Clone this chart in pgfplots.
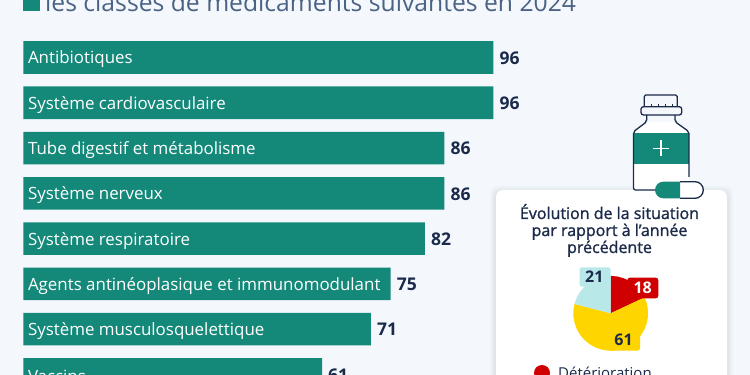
\documentclass[border=0pt]{standalone}
\usepackage{fontspec}
\setmainfont{Open Sans}
\newfontfamily\semib[FakeBold=1.2]{Open Sans}
\newfontfamily\lightf{Open Sans}
\usepackage{pgfplots}
\usepackage{pgfplotstable}
\pgfplotsset{compat=1.18}
\definecolor{bgc}{HTML}{F4F8FC}
\definecolor{barc}{HTML}{14897A}
\definecolor{navy}{HTML}{1B2A4A}
\definecolor{titlec}{HTML}{4A6385}
\definecolor{redc}{HTML}{D10000}
\definecolor{yelc}{HTML}{FFD500}
\definecolor{bluec}{HTML}{B9E8E8}
\pgfplotstableread[col sep=comma]{
y,v,name
0,96,Antibiotiques
1,96,Système cardiovasculaire
2,86,Tube digestif et métabolisme
3,86,Système nerveux
4,82,Système respiratoire
5,75,Agents antinéoplasique et immunomodulant
6,71,Système musculosquelettique
7,61,Vaccins
}\bars
\begin{document}
\begin{tikzpicture}[x=1pt,y=1pt]
\path[use as bounding box,clip] (0,0) rectangle (750,375);
\fill[bgc] (0,0) rectangle (750,375);
% card
\begin{scope}[yshift=375pt,y=-1pt]
\foreach \g/\o in {6/0.025,4/0.03,2/0.04}{
 \fill[navy,opacity=\o,rounded corners=8pt] (496-\g,190-\g+2) rectangle (727+\g,400);}
\fill[white,rounded corners=7pt] (496,190) rectangle (727,400);
\node[anchor=base west,inner sep=0,text=titlec,font=\lightf\fontsize{24.7}{26}\selectfont] at (45,11.5) {les classes de médicaments suivantes en 2024};
\fill[barc] (23,-8) rectangle (40,11);
\node[anchor=base,inner sep=0,text=navy,font=\semib\fontsize{16}{17}\selectfont] at (609.5,219) {Évolution de la situation};
\node[anchor=base,inner sep=0,text=navy,font=\semib\fontsize{16}{17}\selectfont] at (609.5,236) {par rapport à l’année};
\node[anchor=base,inner sep=0,text=navy,font=\semib\fontsize{16}{17}\selectfont] at (609.5,253) {précédente};
\fill[redc] (542,373) circle (8);
\node[anchor=base west,inner sep=0,text=navy,font=\fontsize{15}{17}\selectfont] at (558,378) {Détérioration};
\end{scope}
\begin{axis}[at={(0pt,0pt)},anchor=south west,scale only axis,width=750pt,height=375pt,
  hide axis,xmin=-4.76,xmax=148.4,y dir=reverse,ymin=-1.27,ymax=7.012,clip=true,
  /pgf/number format/assume math mode=true]
\addplot[xbar,bar width=32.6pt,fill=barc,draw=none,
  nodes near coords,
  every node near coord/.append style={anchor=west,inner sep=0,xshift=6pt,yshift=-0.5pt,text=navy,
    font=\bfseries\fontsize{17.5}{18}\selectfont}] table[x=v,y=y,col sep=comma] {\bars};
\addplot[only marks,mark=none,
  nodes near coords,point meta=explicit symbolic,
  every node near coord/.append style={anchor=west,inner sep=0,xshift=4.5pt,yshift=-2pt,text=white,
    font=\fontsize{16.9}{18}\selectfont}]
  table[x expr=0,y=y,meta=name,col sep=comma] {\bars};
\end{axis}
\begin{axis}[at={(610.7pt,61.7pt)},anchor=center,scale only axis,width=74.8pt,height=74.8pt,
  hide axis,xmin=-1,xmax=1,ymin=-1,ymax=1,clip=false]
% 18 %
\addplot[fill=redc,draw=none,data cs=polar] coordinates {(0,0)(90,1)(80,1)(70,1)(60,1)(50,1)(40,1)(30,1)(25.2,1)} -- cycle;
% 61 %
\addplot[fill=yelc,draw=none,data cs=polar] coordinates {(0,0)(25.2,1)(15,1)(5,1)(-5,1)(-15,1)(-25,1)(-35,1)(-45,1)(-55,1)(-65,1)(-75,1)(-85,1)(-95,1)(-105,1)(-115,1)(-125,1)(-135,1)(-145,1)(-155,1)(-165,1)(-175,1)(-185,1)(-194.4,1)} -- cycle;
% 21 %
\addplot[fill=bluec,draw=none,data cs=polar] coordinates {(0,0)(-194.4,1)(-205,1)(-215,1)(-225,1)(-235,1)(-245,1)(-255,1)(-265,1)(-270,1)} -- cycle;
\end{axis}
\begin{scope}[yshift=375pt,y=-1pt]
% pie labels
\fill[bluec,rounded corners=2.5pt] (579.5,267.3) rectangle (610.7,286.7);
\node[text=navy,inner sep=0,font=\bfseries\fontsize{16}{16}\selectfont] at (594.3,277) {21};
\fill[redc,rounded corners=2.5pt] (627.3,277.7) rectangle (658.3,298.3);
\node[text=white,inner sep=0,font=\bfseries\fontsize{16}{16}\selectfont] at (642.7,287.7) {18};
\fill[yelc,rounded corners=2.5pt] (608,330) rectangle (640,350.7);
\node[text=navy,inner sep=0,font=\bfseries\fontsize{16}{16}\selectfont] at (623.5,340.3) {61};
% bottle
\fill[white] (633.5,132) -- (646.7,121.7) -- (675,121.7) -- (689,132) -- (689,190) -- (633.5,190) -- cycle;
\fill[barc] (633.5,132.7) rectangle (689,164);
\draw[navy,line width=1.3pt,line join=round,rounded corners=1.5pt]
  (644.3,106.7) -- (644.3,95) -- (677.3,95) -- (677.3,106.7);
\draw[navy,line width=1.3pt,rounded corners=2.5pt] (641,106.7) rectangle (681.7,115);
\draw[navy,line width=0.8pt] (651,106.7)--(651,104) (658,106.7)--(658,104) (665,106.7)--(665,104) (672,106.7)--(672,104);
\draw[navy,line width=1.3pt,line join=round,rounded corners=2pt]
  (646.7,115) -- (646.7,121.7) -- (633.5,131.7) -- (633.5,190) -- (656,190);
\draw[navy,line width=1.3pt,line join=round,rounded corners=2pt]
  (675,115) -- (675,121.7) -- (689,131.7) -- (689,177);
\draw[white,line width=1.2pt] (661,140.5) -- (661,156.5) (653,148.5) -- (669,148.5);
% pill
\fill[white,rounded corners=8.3pt] (655,181.7) rectangle (703.3,198.3);
\fill[barc] (680,181.7) -- (663.3,181.7) arc[start angle=270,end angle=90,radius=8.3] -- (680,198.3) -- cycle;
\draw[navy,line width=1.3pt,rounded corners=8.3pt] (680,181.7) -- (703.3,181.7) -- (703.3,198.3) -- (680,198.3);
\end{scope}
\end{tikzpicture}
\end{document}
